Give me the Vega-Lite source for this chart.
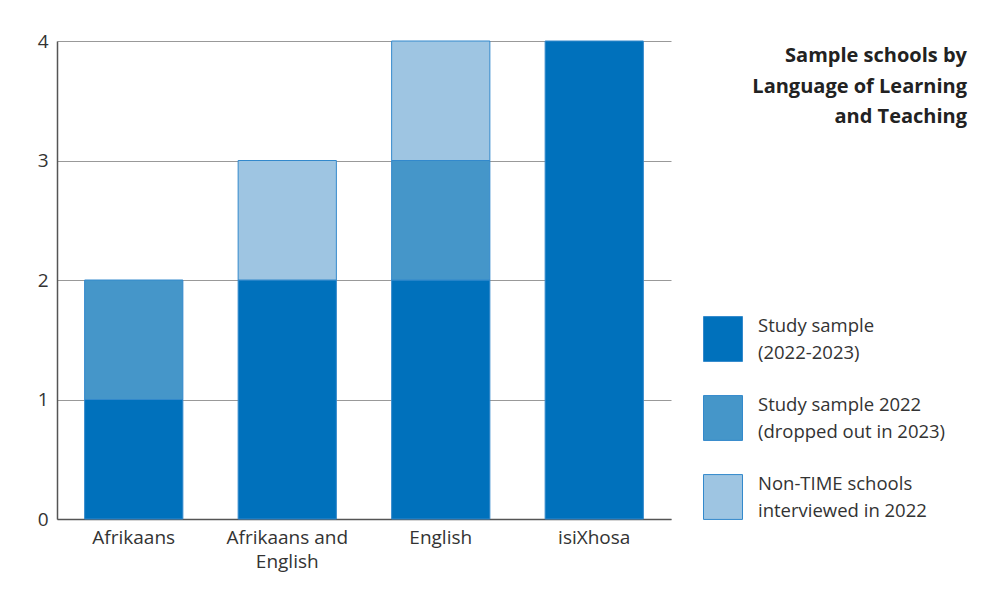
{
  "$schema": "https://vega.github.io/schema/vega-lite/v6.json",
  "width": 614,
  "height": 478,
  "autosize": {"type": "none"},
  "padding": {"left": 57, "top": 41, "right": 326, "bottom": 81},
  "background": "white",
  "title": {
    "text": ["Sample schools by", "Language of Learning", "and Teaching"],
    "anchor": "end",
    "frame": "group",
    "orient": "top",
    "align": "right",
    "dx": 296,
    "dy": 95,
    "offset": 0,
    "baseline": "top",
    "font": "Open Sans",
    "fontSize": 20,
    "fontWeight": "bold",
    "color": "#222222",
    "lineHeight": 30.5
  },
  "data": {
    "values": [
      {"lang": "Afrikaans", "group": "Study sample|(2022-2023)", "ord": 1, "n": 1},
      {"lang": "Afrikaans", "group": "Study sample 2022|(dropped out in 2023)", "ord": 2, "n": 1},
      {"lang": "Afrikaans and English", "group": "Study sample|(2022-2023)", "ord": 1, "n": 2},
      {"lang": "Afrikaans and English", "group": "Non-TIME schools|interviewed in 2022", "ord": 3, "n": 1},
      {"lang": "English", "group": "Study sample|(2022-2023)", "ord": 1, "n": 2},
      {"lang": "English", "group": "Study sample 2022|(dropped out in 2023)", "ord": 2, "n": 1},
      {"lang": "English", "group": "Non-TIME schools|interviewed in 2022", "ord": 3, "n": 1},
      {"lang": "isiXhosa", "group": "Study sample|(2022-2023)", "ord": 1, "n": 4}
    ]
  },
  "mark": {"type": "bar", "stroke": "#3389cc", "strokeWidth": 1},
  "encoding": {
    "x": {
      "field": "lang",
      "type": "nominal",
      "sort": null,
      "scale": {"paddingInner": 0.36, "paddingOuter": 0.18},
      "axis": {
        "title": null,
        "labelAngle": 0,
        "labelExpr": "datum.label == 'Afrikaans and English' ? ['Afrikaans and', 'English'] : datum.label",
        "labelFont": "Open Sans",
        "labelFontSize": 19,
        "labelColor": "#333333",
        "labelPadding": 9,
        "labelLineHeight": 24,
        "ticks": false,
        "domainColor": "#555555",
        "domainWidth": 1.5
      }
    },
    "y": {
      "field": "n",
      "type": "quantitative",
      "stack": "zero",
      "scale": {"domain": [0, 4], "nice": false},
      "axis": {
        "title": null,
        "values": [0, 1, 2, 3, 4],
        "format": "d",
        "labelFont": "Open Sans",
        "labelFontSize": 19,
        "labelColor": "#333333",
        "labelPadding": 9,
        "ticks": false,
        "domainColor": "#555555",
        "domainWidth": 1.5,
        "gridColor": "#999999",
        "gridWidth": 1
      }
    },
    "color": {
      "field": "group",
      "type": "nominal",
      "sort": ["Study sample|(2022-2023)", "Study sample 2022|(dropped out in 2023)", "Non-TIME schools|interviewed in 2022"],
      "scale": {
        "domain": ["Study sample|(2022-2023)", "Study sample 2022|(dropped out in 2023)", "Non-TIME schools|interviewed in 2022"],
        "range": ["#0071bc", "#4596c9", "#9ec5e2"]
      },
      "legend": {
        "title": null,
        "orient": "none",
        "legendX": 646,
        "legendY": 278,
        "symbolType": "M-1,-1.15H1V1.15H-1Z",
        "symbolSize": 1521,
        "symbolStrokeColor": "#3389cc",
        "symbolStrokeWidth": 1,
        "labelExpr": "split(datum.label, '|')",
        "labelFont": "Open Sans",
        "labelFontSize": 18.5,
        "labelColor": "#333333",
        "labelOffset": 15,
        "labelLimit": 300,
        "rowPadding": 29,
        "encode": {
          "labels": {"update": {"dy": {"value": -13}}}
        }
      }
    },
    "order": {"field": "ord", "type": "quantitative"}
  },
  "config": {
    "view": {"stroke": null},
    "style": {"guide-label": {"lineHeight": 27}}
  }
}
